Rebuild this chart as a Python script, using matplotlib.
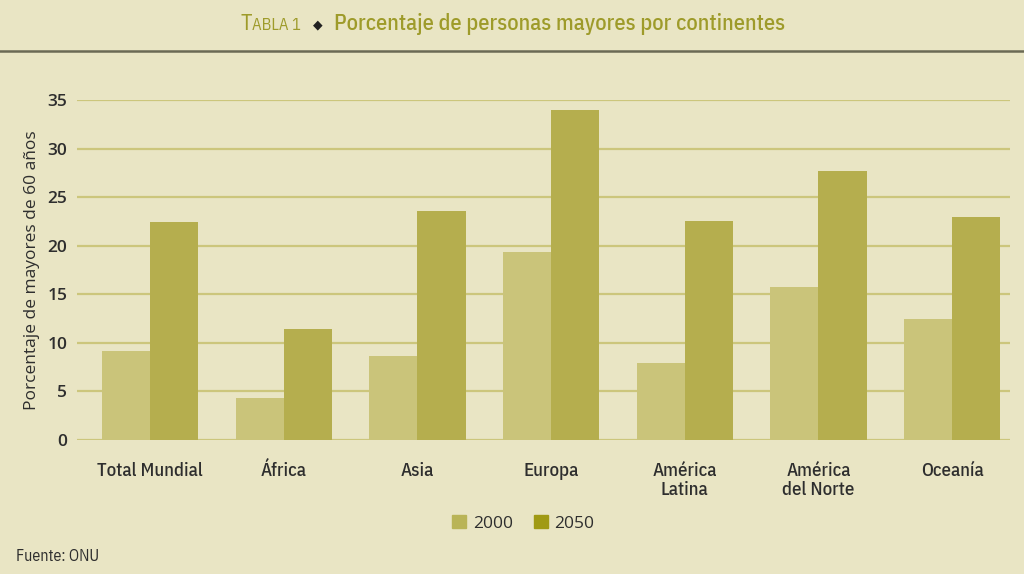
import matplotlib
matplotlib.use("Agg")
import matplotlib.pyplot as plt
from matplotlib.patches import Patch
import numpy as np

# Data
continentes = ["Total Mundial", "África", "Asia", "Europa", "América\nLatina",
               "América\ndel Norte", "Oceanía"]
val_2000 = [9.2, 4.3, 8.7, 19.4, 7.9, 15.8, 12.5]
val_2050 = [22.4, 11.4, 23.6, 34.0, 22.5, 27.7, 23.0]
y_ticks = [0, 5, 10, 15, 20, 25, 30, 35]

# Colours
bg = "#e9e5c4"
grid_col = "#ccc67c"
c2000 = "#cac47a"
c2050 = "#b5ae4e"
leg2000 = "#b9b457"
leg2050 = "#a09a14"
title_col = "#9e9b2a"
text_col = "#2e2e2e"

narrow = ["IBM Plex Sans Condensed", "DejaVu Sans"]
humanist = ["Open Sans", "DejaVu Sans"]
plt.rcParams["font.family"] = narrow

fig = plt.figure(figsize=(10.24, 5.74), dpi=100, facecolor=bg)
ax = fig.add_axes([0.0752, 0.2334, 0.9108, 0.5924], facecolor=bg)

x = np.arange(len(continentes))
w = 0.36
for y in y_ticks:
    ax.axhline(y, color=grid_col, lw=1.6, zorder=1)
ax.bar(x - w / 2, val_2000, w, color=c2000, zorder=2)
ax.bar(x + w / 2, val_2050, w, color=c2050, zorder=2)

ax.set_xlim(-0.546, 6.43)
ax.set_ylim(0, 35)
for s in ax.spines.values():
    s.set_visible(False)
ax.set_yticks(y_ticks)
ax.set_yticklabels([str(v) for v in y_ticks], fontsize=12.5, color=text_col,
                   family=humanist, fontweight="semibold")
ax.set_xticks(x)
ax.set_xticklabels(continentes, fontsize=13.5, color=text_col, linespacing=1.05,
                   va="top", fontweight="medium")
ax.tick_params(axis="both", length=0)
ax.tick_params(axis="y", pad=7)
ax.tick_params(axis="x", pad=16)
ax.set_ylabel("Porcentaje de mayores de 60 años", fontsize=12.5, color=text_col,
              labelpad=5, family=humanist)

# Legend
handles = [Patch(color=leg2000, label="2000"), Patch(color=leg2050, label="2050")]
fig.legend(handles=handles, loc="center", bbox_to_anchor=(0.511, 0.088), ncol=2,
           frameon=False, handlelength=0.8, handleheight=0.8,
           handletextpad=0.4, columnspacing=1.2, labelcolor=text_col,
           prop={"family": humanist, "size": 12.5})

fig.text(0.016, 0.031, "Fuente: ONU", fontsize=11.5, color=text_col, va="center")

# Title line under header
fig.add_artist(plt.Line2D([0, 1], [0.912, 0.912], color="#6b6a55", lw=1.8,
                          transform=fig.transFigure))

# Title with small caps "TABLA 1"
pieces = [("T", 16, title_col, "normal"),
          ("ABLA 1", 12, title_col, "normal"),
          ("   \u25c6   ", 9, "#222222", "normal"),
          ("Porcentaje de personas mayores por continentes", 16, title_col, "medium")]
fig.canvas.draw()
r = fig.canvas.get_renderer()
widths = []
texts = []
for s, size, col, wt in pieces:
    fam = ["DejaVu Sans"] if "\u25c6" in s else narrow
    t = fig.text(0, 0.947, s, fontsize=size, color=col, fontweight=wt,
                 va="baseline", ha="left", family=fam)
    texts.append(t)
    widths.append(t.get_window_extent(r).width)
total = sum(widths)
start = 513 - total / 2
for t, wd in zip(texts, widths):
    t.set_x(start / 1024)
    start += wd
texts[2].set_y(0.951)

fig.savefig("out.png", dpi=100, facecolor=bg)
